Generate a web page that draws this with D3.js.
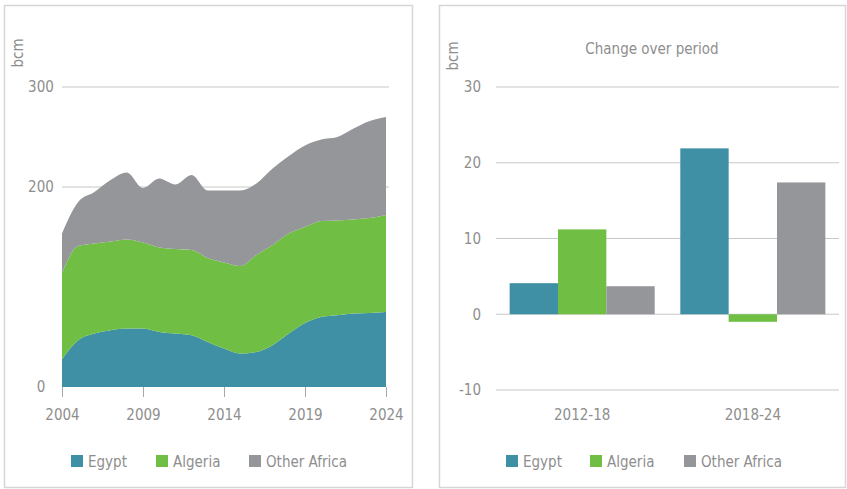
<!DOCTYPE html>
<html>
<head>
<meta charset="utf-8">
<script src="https://cdn.jsdelivr.net/npm/d3@7"></script>
<style>
  body { margin: 0; background: #fff; }
  svg text { font-family: "Liberation Sans Narrow", "DejaVu Sans Condensed", "Roboto", sans-serif; fill: #8e8e8e; font-size: 15px; }
</style>
</head>
<body>
<div id="vis"></div>
<script>
// production by year, bcm
const years = [2004, 2005, 2006, 2007, 2008, 2009, 2010, 2011, 2012, 2013, 2014,
               2015, 2016, 2017, 2018, 2019, 2020, 2021, 2022, 2023, 2024]
const egypt   = [27.7, 46.7, 53.4, 56.7, 58.4, 58.4, 55.0, 53.4, 51.7, 45.0, 38.4,
                 33.4, 35.0, 41.7, 53.4, 64.0, 70.0, 71.7, 73.4, 74.0, 75.0]
const algeria = [86.3, 94.3, 90.1, 88.8, 89.1, 86.1, 84.5, 84.6, 85.3, 84.0, 86.1,
                 87.6, 97.0, 100.3, 100.1, 96.0, 96.0, 94.8, 94.1, 95.0, 97.0]
const other   = [39.5, 44.0, 51.5, 61.5, 67.0, 54.5, 69.0, 64.5, 75.0, 67.5, 72.0,
                 75.5, 71.5, 76.5, 77.5, 81.5, 81.5, 83.5, 91.0, 97.0, 98.0]

// change over period, bcm
const periods = ['2012-18', '2018-24']
const egyptChange   = [4.1, 21.9]
const algeriaChange = [11.2, -1.0]
const otherChange   = [3.7, 17.4]

const seriesNames = ['Egypt', 'Algeria', 'Other Africa']
const colors = ['#3f90a4', '#70bf44', '#95969a']

const leftTicksY = [0, 200, 300]
const leftTicksX = [2004, 2009, 2014, 2019, 2024]
const rightTicksY = [-10, 0, 10, 20, 30]

const svg = d3.select('#vis').append('svg')
    .attr('width', 847)
    .attr('height', 489)

// panel frames
svg.append('rect').attr('x', 4.5).attr('y', 5.5).attr('width', 408).attr('height', 482)
    .attr('fill', 'none').attr('stroke', '#d6d6d6').attr('stroke-width', 1.5)
svg.append('rect').attr('x', 439.5).attr('y', 5.5).attr('width', 406).attr('height', 482)
    .attr('fill', 'none').attr('stroke', '#d6d6d6').attr('stroke-width', 1.5)

function legend(x0, offsets) {
    let g = svg.append('g')
    seriesNames.forEach((name, i) => {
        g.append('rect')
            .attr('x', x0 + offsets[i]).attr('y', 455)
            .attr('width', 12).attr('height', 12)
            .attr('fill', colors[i])
        g.append('text')
            .attr('x', x0 + offsets[i] + 17).attr('y', 467)
            .text(name)
    })
}

//Left chart: stacked area
function drawLeft() {
    let x = d3.scaleLinear().domain([2004, 2024]).range([62, 386])
    let y = d3.scaleLinear().domain([0, 300]).range([387, 87])

    let g = svg.append('g')

    // gridlines
    g.selectAll('.grid')
        .data(leftTicksY.filter(d => d > 0))
        .join('line')
        .attr('x1', 62).attr('x2', 389)
        .attr('y1', d => y(d)).attr('y2', d => y(d))
        .attr('stroke', '#c8c8c8').attr('stroke-width', 1.2)

    g.selectAll('.ylab')
        .data(leftTicksY)
        .join('text')
        .attr('x', 41).attr('y', d => y(d))
        .attr('dy', '0.35em')
        .attr('text-anchor', 'middle')
        .text(d => d)

    let table = years.map((yr, i) => ({ year: yr, Egypt: egypt[i], Algeria: algeria[i], 'Other Africa': other[i] }))
    let stacked = d3.stack().keys(seriesNames)(table)

    let area = d3.area()
        .curve(d3.curveMonotoneX)
        .x(d => x(d.data.year))
        .y0(d => y(d[0]))
        .y1(d => y(d[1]))

    g.selectAll('.layer')
        .data(stacked)
        .join('path')
        .attr('fill', (d, i) => colors[i])
        .attr('d', area)

    // x axis ticks
    let xAxis = g.append('g')
        .attr('transform', 'translate(0,387)')
        .call(d3.axisBottom(x).tickValues(leftTicksX).tickFormat(d3.format('d')).tickSize(10).tickPadding(12))
    xAxis.select('.domain').remove()
    xAxis.selectAll('line').attr('stroke', '#a8a8a8')
    xAxis.selectAll('text')
        .attr('fill', '#8e8e8e')
        .style('font-size', '15px')
        .style('font-family', null)

    g.append('text')
        .attr('transform', 'translate(23,53) rotate(-90)')
        .attr('text-anchor', 'middle')
        .text('bcm')

    legend(71, [0, 85, 178])
}

//Right chart: grouped bars
function drawRight() {
    let x0 = d3.scaleBand().domain(periods).range([496, 839])
        .paddingInner(0.15).paddingOuter(0.08)
    let x1 = d3.scaleBand().domain(seriesNames).range([0, x0.bandwidth()])
    let y = d3.scaleLinear().domain([-10, 30]).range([390, 87])

    let g = svg.append('g')

    g.selectAll('.grid')
        .data(rightTicksY)
        .join('line')
        .attr('x1', 496).attr('x2', 839)
        .attr('y1', d => y(d)).attr('y2', d => y(d))
        .attr('stroke', '#c8c8c8').attr('stroke-width', 1.2)

    g.selectAll('.ylab')
        .data(rightTicksY)
        .join('text')
        .attr('x', 481).attr('y', d => y(d))
        .attr('dy', '0.35em')
        .attr('text-anchor', 'end')
        .text(d => d)

    let changes = [egyptChange, algeriaChange, otherChange]
    let bars = []
    periods.forEach((p, pi) => {
        seriesNames.forEach((s, si) => {
            bars.push({ period: p, series: s, idx: si, value: changes[si][pi] })
        })
    })

    g.selectAll('.bar')
        .data(bars)
        .join('rect')
        .attr('x', d => x0(d.period) + x1(d.series))
        .attr('width', x1.bandwidth())
        .attr('y', d => y(Math.max(0, d.value)))
        .attr('height', d => Math.abs(y(d.value) - y(0)))
        .attr('fill', d => colors[d.idx])

    g.selectAll('.xlab')
        .data(periods)
        .join('text')
        .attr('x', d => x0(d) + x0.bandwidth() / 2)
        .attr('y', 420)
        .attr('text-anchor', 'middle')
        .text(d => d)

    g.append('text')
        .attr('x', 652).attr('y', 54)
        .attr('text-anchor', 'middle')
        .text('Change over period')

    g.append('text')
        .attr('transform', 'translate(458,56) rotate(-90)')
        .attr('text-anchor', 'middle')
        .text('bcm')

    legend(506, [0, 84, 178])
}

drawLeft()
drawRight()
</script>
</body>
</html>
